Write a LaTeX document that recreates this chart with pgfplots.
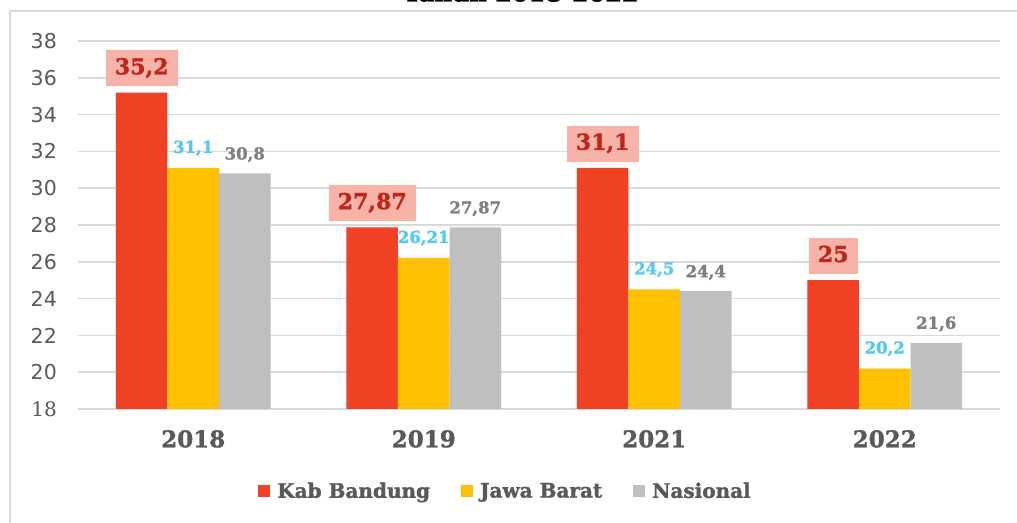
\documentclass[border=0pt]{standalone}
\usepackage{pgfplots}
\pgfplotsset{compat=1.18}
\usepackage{pgfplotstable}
\usepackage{fontspec}
\setmainfont{DejaVu Serif}[BoldFeatures={FakeBold=1.5}]
\newfontfamily\sansf{DejaVu Sans}
\definecolor{cRed}{HTML}{F04124}
\definecolor{cYellow}{HTML}{FFC000}
\definecolor{cGray}{HTML}{BFBFBF}
\definecolor{cRedLbl}{HTML}{C0261B}
\definecolor{cPink}{HTML}{F8B3A8}
\definecolor{cBlue}{HTML}{55C8F2}
\definecolor{cGrayLbl}{HTML}{7F7F7F}
\definecolor{cGrid}{HTML}{D9D9D9}
\definecolor{cText}{HTML}{595959}

\pgfplotstableread{
x y label
0 35.2 35,2
1 27.87 27,87
2 31.1 31,1
3 25 25
}\kab
\pgfplotstableread{
x y label
0 31.1 31,1
1 26.21 26,21
2 24.5 24,5
3 20.2 20,2
}\jabar
\pgfplotstableread{
x y label
0 30.8 30,8
1 27.87 27,87
2 24.4 24,4
3 21.6 21,6
}\nas

\begin{document}
\begin{tikzpicture}
\useasboundingbox (0bp,0bp) rectangle (1017bp,523bp);
\draw[cGrid, line width=1.5bp] (10bp,0bp) -- (10bp,512bp) -- (1017bp,512bp);
\node[anchor=base, inner sep=0pt, font=\bfseries\fontsize{24bp}{28bp}\selectfont] at (521bp,521.5bp) {Tahun 2018-2022};
\begin{axis}[
  at={(78bp,114bp)}, anchor=south west,
  scale only axis, width=922bp, height=368bp,
  ybar, bar width=0.2235,
  xmin=-0.5, xmax=3.5, ymin=18, ymax=38,
  xtick={0,1,2,3}, xticklabels={2018,2019,2021,2022},
  ytick={18,20,...,38},
  yticklabels={{\rmfamily\fontsize{20bp}{24bp}\selectfont 18},20,22,24,26,28,30,32,34,36,38},
  ymajorgrids, grid style={cGrid, line width=1.5bp},
  axis line style={draw=none}, major tick length=0pt,
  xticklabel style={font=\bfseries\fontsize{23bp}{27bp}\selectfont, text=cText, anchor=north, inner sep=0pt, yshift=-21bp},
  yticklabel style={font=\sansf\fontsize{20.5bp}{24bp}\selectfont, text=cText, anchor=east, inner sep=0pt, xshift=-21bp},
  legend style={at={(0.4637,-0.2228)}, anchor=center, draw=none, fill=none,
    font=\bfseries\fontsize{20bp}{24bp}\selectfont, text=cText, legend columns=3,
    /tikz/every odd column/.append style={column sep=5bp},
    /tikz/every even column/.append style={column sep=29bp}, inner sep=0pt},
  legend cell align=left,
  legend image code/.code={\fill[#1] (0bp,-6bp) rectangle (12bp,6bp);},
  point meta=explicit symbolic,
  nodes near coords,
]
\addplot[fill=cRed, draw=none, bar shift=-0.2235,
  every node near coord/.append style={font=\bfseries\fontsize{22bp}{26bp}\selectfont, text=cRedLbl, fill=cPink, anchor=south, inner xsep=9bp, inner ysep=8bp, text height=16bp, text depth=4bp, yshift=6bp}]
  table[x=x, y=y, meta=label] {\kab};
\addplot[fill=cYellow, draw=none, bar shift=0,
  every node near coord/.append style={font=\bfseries\fontsize{16.5bp}{20bp}\selectfont, text=cBlue, anchor=base, inner sep=0pt, yshift=15bp}]
  table[x=x, y=y, meta=label] {\jabar};
\addplot[fill=cGray, draw=none, bar shift=0.2235,
  every node near coord/.append style={font=\bfseries\fontsize{16.5bp}{20bp}\selectfont, text=cGrayLbl, anchor=base, inner sep=0pt, yshift=14bp}]
  table[x=x, y=y, meta=label] {\nas};
\legend{Kab Bandung, Jawa Barat, Nasional}
\end{axis}
\end{tikzpicture}
\end{document}
